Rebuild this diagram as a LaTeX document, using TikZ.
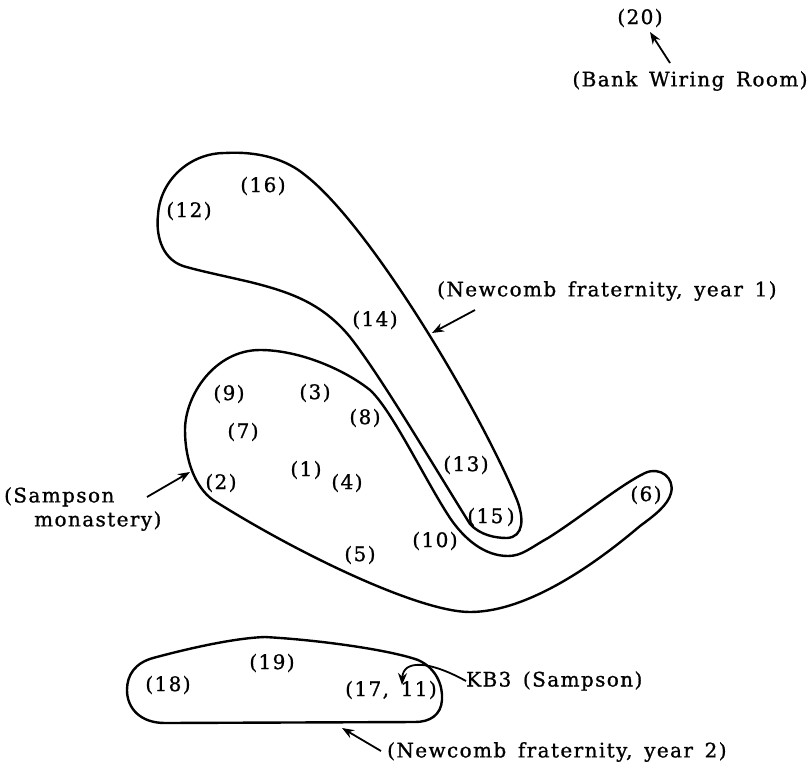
\documentclass[tikz,border=0pt]{standalone}
\usepackage{fontspec}
\setmainfont[LetterSpace=7,WordSpace=1.5,FakeBold=1]{DejaVu Serif}
\usetikzlibrary{arrows.meta}
\begin{document}
\begin{tikzpicture}[x=1pt,y=-1pt,
  every node/.style={inner sep=0pt,font=\fontsize{20}{24}\selectfont},
  region/.style={line width=2.4pt,line join=round},
  arr/.style={line width=1.8pt,-{Stealth[length=12pt,width=9pt]}}]
\useasboundingbox (0,0) rectangle (810,771);

% people
\node (n20) at (640,18) {(20)};
\node (n16) at (263,186) {(16)};
\node (n12) at (189,211) {(12)};
\node (n14) at (375,320) {(14)};
\node (n9) at (229,394) {(9)};
\node (n3) at (315,393) {(3)};
\node (n8) at (365,418) {(8)};
\node (n7) at (243,432) {(7)};
\node (n1) at (306,470) {(1)};
\node (n4) at (347,483) {(4)};
\node (n2) at (221,483) {(2)};
\node (n5) at (360,555) {(5)};
\node (n10) at (435,541) {(10)};
\node (n13) at (466,465) {(13)};
\node (n15) at (491,517) {(15\,)};
\node (n6) at (646,495) {(6)};
\node (n18) at (168,685) {(18)};
\node (n19) at (272,663) {(19)};
\node (n1711) at (391,690) {(17, 11)};

% group labels
\node (bwr) at (690,81) {(Bank Wiring Room)};
\node[anchor=west] (ny1) at (437,291) {(Newcomb fraternity,\ year 1)};
\node[anchor=west,align=left] (samp) at (4,509) {(Sampson\\\hspace*{1.5em}monastery)};
\node[anchor=west] (kb3) at (466,681) {KB3 (Sampson)};
\node[anchor=west] (ny2) at (387,752) {(Newcomb fraternity,\ year 2)};

% Newcomb fraternity, year 1
\draw[region] (225,153) .. controls (260,151) and (287,160) .. (305,175)
  .. controls (370,225) and (480,410) .. (517,500)
  .. controls (524,518) and (524,537) .. (507,538)
  .. controls (495,538) and (480,535) .. (470,524)
  .. controls (430,460) and (380,375) .. (350,337)
  .. controls (322,303) and (290,292) .. (250,282)
  .. controls (220,275) and (200,271) .. (183,266)
  .. controls (160,258) and (156,232) .. (158,215)
  .. controls (160,180) and (190,153) .. cycle;

% Sampson monastery
\draw[region] (260,350) .. controls (300,350) and (345,370) .. (370,390)
  .. controls (392,410) and (425,480) .. (450,518)
  .. controls (465,540) and (485,556) .. (508,556)
  .. controls (522,556) and (530,548) .. (548,538)
  .. controls (580,518) and (620,485) .. (645,473)
  .. controls (660,466) and (675,478) .. (671,493)
  .. controls (668,505) and (655,515) .. (640,526)
  .. controls (600,560) and (530,612) .. (470,612)
  .. controls (420,612) and (300,555) .. (213,500)
  .. controls (195,487) and (185,460) .. (185,430)
  .. controls (185,395) and (215,350) .. cycle;

% Newcomb fraternity, year 2
\draw[region] (153,658) .. controls (190,648) and (235,638) .. (265,637)
  .. controls (320,640) and (390,650) .. (418,660)
  .. controls (436,668) and (443,685) .. (442,700)
  .. controls (441,715) and (430,722) .. (415,722)
  -- (165,723)
  .. controls (140,723) and (127,708) .. (127,690)
  .. controls (127,675) and (135,663) .. cycle;

% pointers
\coordinate (bwrtail) at (670,63);
\coordinate (bwrhead) at (650,32);
\coordinate (y1head) at (432,333);
\coordinate (y1tail) at (475,310);
\coordinate (samptail) at (147,497);
\coordinate (samphead) at (190,472);
\coordinate (y2tail) at (381,751);
\coordinate (y2head) at (342,728);
\coordinate (kbtip) at (402,685);

\draw[arr] (bwrtail) -- (bwrhead);
\draw[arr] (y1tail) -- (y1head);
\draw[arr] (samptail) -- (samphead);
\draw[arr] (y2tail) -- (y2head);
\draw[arr] (kb3.west) .. controls (428,660) and (403,660) .. (kbtip);
\end{tikzpicture}
\end{document}
